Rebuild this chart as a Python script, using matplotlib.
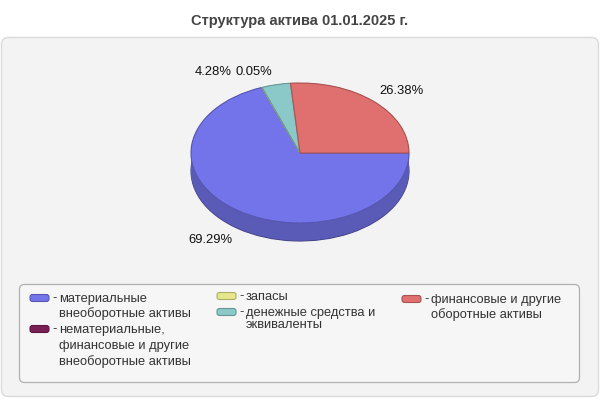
import matplotlib
matplotlib.use("Agg")
import matplotlib.pyplot as plt
from matplotlib.patches import FancyBboxPatch
from matplotlib.colors import to_rgb

# данные
title = "Структура актива 01.01.2025 г."
categories = [
    "материальные\nвнеоборотные активы",
    "нематериальные,\nфинансовые и другие\nвнеоборотные активы",
    "запасы",
    "денежные средства и\nэквиваленты",
    "финансовые и другие\nоборотные активы",
]
shares = [69.29, 0.0, 0.05, 4.28, 26.38]
colors = ["#7474ea", "#7a1f55", "#e6e68c", "#8bc8c8", "#e07070"]

plt.rcParams["font.family"] = ["Liberation Sans", "DejaVu Sans"]

def darker(c, k):
    r, g, b = to_rgb(c)
    return (r * k, g * k, b * k)

fig = plt.figure(figsize=(6, 4), dpi=100)
fig.patch.set_facecolor("white")

# фон, заголовок, легенда (координаты в пикселях)
bg = fig.add_axes([0, 0, 1, 1])
bg.set_xlim(0, 600)
bg.set_ylim(400, 0)
bg.axis("off")
bg.add_patch(FancyBboxPatch((1.5, 37.5), 597, 359, boxstyle="round,pad=0,rounding_size=7",
                            fc="#f3f3f3", ec="#dadada", lw=1))
bg.text(300, 21, title, ha="center", va="center", fontsize=10.5, fontweight="bold", color="#444444")
bg.add_patch(FancyBboxPatch((19.5, 284.5), 560, 98, boxstyle="round,pad=0,rounding_size=5",
                            fc="#f6f6f6", ec="#b0b0b0", lw=0.9))

# пирог с объёмом
ax = fig.add_axes([0.2275, 0.355, 0.545, 0.525])
ax.set_zorder(2)
ax.patch.set_alpha(0)
depth = 18 / 70
n_layers = 30
side_colors = [darker(c, 0.78) for c in colors]
for k in range(n_layers):
    off = depth * (1 - k / (n_layers - 1))
    wedges, _ = ax.pie(shares, colors=side_colors, startangle=0, counterclock=False,
                       center=(0, -off), radius=1, wedgeprops=dict(lw=0))
    if k == 0:
        for w, c in zip(wedges, colors):
            w.set_edgecolor(darker(c, 0.6))
            w.set_linewidth(0.8)
wedges, _ = ax.pie(shares, colors=colors, startangle=0, counterclock=False,
                   center=(0, 0), radius=1)
for w, c in zip(wedges, colors):
    w.set_edgecolor(darker(c, 0.75))
    w.set_linewidth(0.8)
ax.set_aspect("auto")
ax.set_xlim(-1.5, 1.5)
ax.set_ylim(-1.5, 1.5)
ax.axis("off")

# подписи долей
label_px = [(210, 240), None, (254, 72), (213, 72), (402, 91)]
for v, pos in zip(shares, label_px):
    if pos is None or v == 0:
        continue
    bg.text(pos[0], pos[1], f"{v:.2f}%", ha="center", va="center", fontsize=9.4, color="#111111",
            zorder=5)

# легенда
sw_x = [30, 30, 217, 217, 402]
sw_y = [298, 329, 296, 312, 299]
line_gap = [15, 16, 15, 11.5, 15]
for lab, c, x, y, g in zip(categories, colors, sw_x, sw_y, line_gap):
    bg.add_patch(FancyBboxPatch((x, y - 3.5), 19, 7, boxstyle="round,pad=0,rounding_size=2.5",
                                fc=c, ec=darker(c, 0.75), lw=0.8))
    bg.text(x + 22, y, "-", ha="left", va="center", fontsize=9.3, color="#333333")
    for i, line in enumerate(lab.split("\n")):
        bg.text(x + 29, y + 1 + i * g, line, ha="left", va="center", fontsize=9.3, color="#333333")

fig.savefig("out.png", dpi=100)
